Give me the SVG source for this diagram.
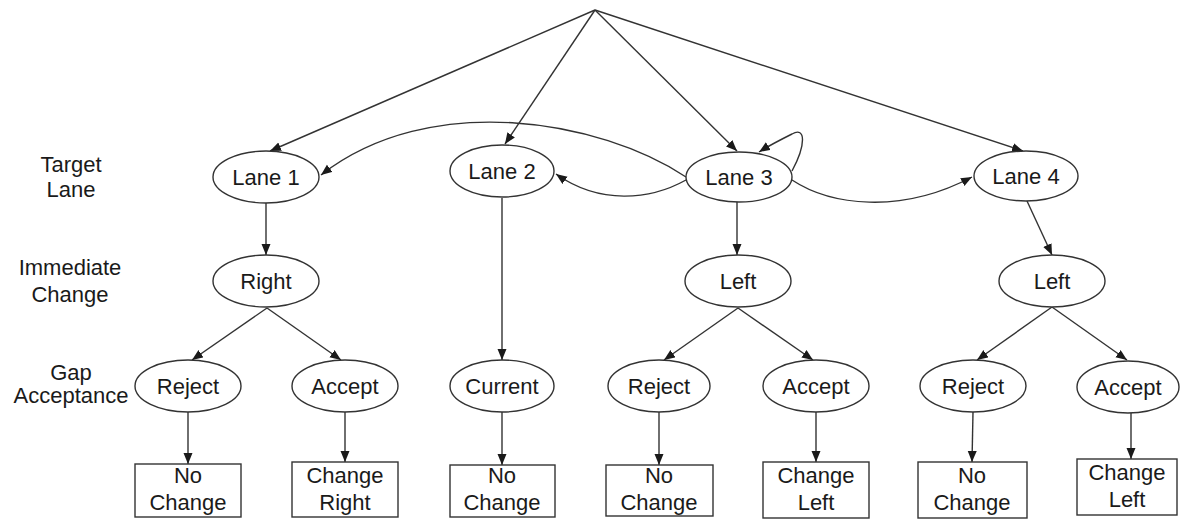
<svg xmlns="http://www.w3.org/2000/svg" width="1180" height="519" viewBox="0 0 1180 519">
<defs>
<marker id="ah" markerUnits="userSpaceOnUse" markerWidth="12" markerHeight="10" refX="11" refY="4.5" orient="auto">
<path d="M0,0 L11,4.5 L0,9 z" fill="#1a1a1a"/>
</marker>
<style>
.n ellipse, .n rect { fill: #fff; stroke: #333; stroke-width: 1.4; }
text { font-family: "Liberation Sans", Arial, sans-serif; font-size: 22px; fill: #1a1a1a; text-anchor: middle; }
.c path, .c line { fill: none; stroke: #333; stroke-width: 1.4; marker-end: url(#ah); }
</style>
</defs>
<rect width="1180" height="519" fill="#fff"/>

<g id="row-labels">
<text x="71" y="172">Target</text>
<text x="71" y="197">Lane</text>
<text x="70" y="275">Immediate</text>
<text x="70" y="302">Change</text>
<text x="71" y="380">Gap</text>
<text x="71" y="403">Acceptance</text>
</g>

<g id="connectors" class="c">
<line x1="595" y1="10" x2="270" y2="151"/>
<line x1="595" y1="10" x2="505" y2="144"/>
<line x1="595" y1="10" x2="737" y2="151"/>
<line x1="595" y1="10" x2="1023" y2="151"/>
<path d="M686,177 C600,120 430,90 321,175"/>
<path d="M686,180 C650,200 600,205 556,174"/>
<path d="M792,180 C830,205 900,215 972,177"/>
<path d="M792,171 C806,145 806,126 792,134 C782,139 770,145 759,152"/>
<line x1="266" y1="203" x2="266" y2="255"/>
<line x1="502" y1="198" x2="502" y2="360"/>
<line x1="737" y1="202" x2="737" y2="255"/>
<line x1="1027" y1="201" x2="1052" y2="255"/>
<line x1="267" y1="308" x2="192" y2="360"/>
<line x1="267" y1="308" x2="341" y2="360"/>
<line x1="738" y1="308" x2="664" y2="360"/>
<line x1="738" y1="308" x2="813" y2="360"/>
<line x1="1052" y1="307" x2="977" y2="360"/>
<line x1="1052" y1="307" x2="1127" y2="360"/>
<line x1="188" y1="412" x2="188" y2="464"/>
<line x1="345" y1="412" x2="345" y2="462"/>
<line x1="502" y1="412" x2="502" y2="465"/>
<line x1="659" y1="412" x2="659" y2="465"/>
<line x1="816" y1="412" x2="816" y2="462"/>
<line x1="973" y1="412" x2="972" y2="462"/>
<line x1="1131" y1="413" x2="1131" y2="459"/>
</g>

<g id="lane1" class="n"><ellipse cx="266" cy="177" rx="53" ry="26"/><text x="266" y="185">Lane 1</text></g>
<g id="lane2" class="n"><ellipse cx="502" cy="171" rx="52" ry="26"/><text x="502" y="179">Lane 2</text></g>
<g id="lane3" class="n"><ellipse cx="739" cy="177" rx="53" ry="25"/><text x="739" y="185">Lane 3</text></g>
<g id="lane4" class="n"><ellipse cx="1026" cy="176" rx="52" ry="25"/><text x="1026" y="184">Lane 4</text></g>

<g id="right1" class="n"><ellipse cx="266" cy="281" rx="53" ry="26"/><text x="266" y="289">Right</text></g>
<g id="left3" class="n"><ellipse cx="738" cy="281" rx="53" ry="26"/><text x="738" y="289">Left</text></g>
<g id="left4" class="n"><ellipse cx="1052" cy="281" rx="53" ry="26"/><text x="1052" y="289">Left</text></g>

<g id="reject1" class="n"><ellipse cx="188" cy="386" rx="53" ry="26"/><text x="188" y="394">Reject</text></g>
<g id="accept1" class="n"><ellipse cx="345" cy="386" rx="53" ry="26"/><text x="345" y="394">Accept</text></g>
<g id="current2" class="n"><ellipse cx="502" cy="386" rx="52" ry="26"/><text x="502" y="394">Current</text></g>
<g id="reject3" class="n"><ellipse cx="659" cy="386" rx="51" ry="26"/><text x="659" y="394">Reject</text></g>
<g id="accept3" class="n"><ellipse cx="816" cy="386" rx="53" ry="26"/><text x="816" y="394">Accept</text></g>
<g id="reject4" class="n"><ellipse cx="973" cy="386" rx="53" ry="26"/><text x="973" y="394">Reject</text></g>
<g id="accept4" class="n"><ellipse cx="1128" cy="387" rx="51" ry="26"/><text x="1128" y="395">Accept</text></g>

<g id="out1" class="n"><rect x="135" y="464" width="106" height="53"/><text x="188" y="483">No</text><text x="188" y="510">Change</text></g>
<g id="out2" class="n"><rect x="292" y="462" width="106" height="55"/><text x="345" y="483">Change</text><text x="345" y="510">Right</text></g>
<g id="out3" class="n"><rect x="450" y="465" width="105" height="52"/><text x="502" y="483">No</text><text x="502" y="510">Change</text></g>
<g id="out4" class="n"><rect x="606" y="465" width="107" height="51"/><text x="659" y="483">No</text><text x="659" y="510">Change</text></g>
<g id="out5" class="n"><rect x="763" y="462" width="106" height="56"/><text x="816" y="483">Change</text><text x="816" y="510">Left</text></g>
<g id="out6" class="n"><rect x="918" y="462" width="109" height="56"/><text x="972" y="483">No</text><text x="972" y="510">Change</text></g>
<g id="out7" class="n"><rect x="1077" y="459" width="100" height="56"/><text x="1127" y="480">Change</text><text x="1127" y="507">Left</text></g>
</svg>
